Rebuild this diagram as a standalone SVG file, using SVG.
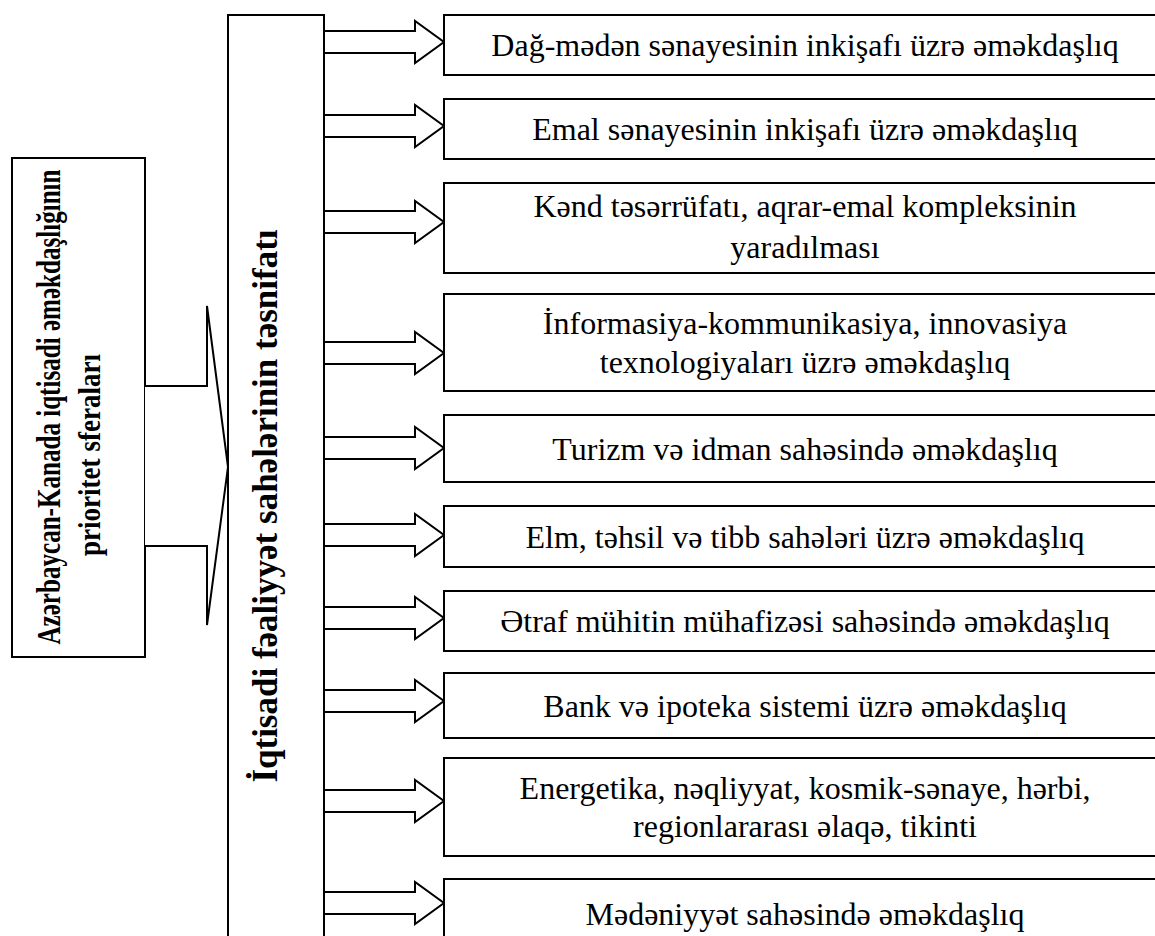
<svg xmlns="http://www.w3.org/2000/svg" width="1155" height="936" viewBox="0 0 1155 936">
<style>
.box{fill:#fff;stroke:#000;stroke-width:2}
.arr{fill:#fff;stroke:#000;stroke-width:2;stroke-linejoin:miter}
.t{font-family:"Liberation Serif","Times New Roman",serif;font-size:32px;fill:#000;text-anchor:middle}
.b{font-family:"Liberation Serif","Times New Roman",serif;font-weight:bold;fill:#000;text-anchor:middle}
</style>
<rect width="1155" height="936" fill="#fff"/>
<g id="left">
<rect class="box" x="12" y="158" width="133" height="499"/>
<text class="b" font-size="34" textLength="475" lengthAdjust="spacingAndGlyphs" transform="translate(60,407) rotate(-90)">Azərbaycan-Kanada iqtisadi əməkdaşlığının</text>
<text class="b" font-size="32" textLength="202" lengthAdjust="spacingAndGlyphs" transform="translate(100,455) rotate(-90)">prioritet sferaları</text>
</g>
<g id="middle">
<rect class="box" x="228" y="15" width="96" height="940"/>
<text class="b" font-size="35" transform="translate(277,506) rotate(-90)">İqtisadi fəaliyyət sahələrinin təsnifatı</text>
</g>
<g id="connectors">
<polyline class="arr" points="145,386 207,386 207,306 228,467 207,625 207,546 145,546"/>
<polygon class="arr" points="324,31 415,31 415,21 444,42 415,63 415,53 324,53"/>
<polygon class="arr" points="324,115 415,115 415,105 444,126 415,147 415,137 324,137"/>
<polygon class="arr" points="324,211 415,211 415,201 444,222 415,243 415,233 324,233"/>
<polygon class="arr" points="324,342 415,342 415,332 444,353 415,374 415,364 324,364"/>
<polygon class="arr" points="324,437 415,437 415,427 444,448 415,469 415,459 324,459"/>
<polygon class="arr" points="324,524 415,524 415,514 444,535 415,556 415,546 324,546"/>
<polygon class="arr" points="324,607 415,607 415,597 444,618 415,639 415,629 324,629"/>
<polygon class="arr" points="324,690 415,690 415,680 444,701 415,722 415,712 324,712"/>
<polygon class="arr" points="324,790 415,790 415,780 444,801 415,822 415,812 324,812"/>
<polygon class="arr" points="324,892 415,892 415,882 444,903 415,924 415,914 324,914"/>
<line x1="324" y1="15" x2="324" y2="940" stroke="#000" stroke-width="2"/>
</g>
<g id="n1"><rect class="box" x="444" y="15" width="720" height="60"/><text class="t" x="805" y="56">Dağ-mədən sənayesinin inkişafı üzrə  əməkdaşlıq</text></g>
<g id="n2"><rect class="box" x="444" y="99" width="720" height="60"/><text class="t" x="805" y="140">Emal sənayesinin inkişafı üzrə əməkdaşlıq</text></g>
<g id="n3"><rect class="box" x="444" y="183" width="720" height="90"/><text class="t" x="805" y="217">Kənd təsərrüfatı, aqrar-emal kompleksinin</text><text class="t" x="805" y="258">yaradılması</text></g>
<g id="n4"><rect class="box" x="444" y="294" width="720" height="97"/><text class="t" x="805" y="334">İnformasiya-kommunikasiya, innovasiya</text><text class="t" x="805" y="373">texnologiyaları üzrə əməkdaşlıq</text></g>
<g id="n5"><rect class="box" x="444" y="415" width="720" height="67"/><text class="t" x="805" y="460">Turizm və idman sahəsində əməkdaşlıq</text></g>
<g id="n6"><rect class="box" x="444" y="506" width="720" height="61"/><text class="t" x="805" y="548">Elm, təhsil və tibb sahələri üzrə əməkdaşlıq</text></g>
<g id="n7"><rect class="box" x="444" y="591" width="720" height="60"/><text class="t" x="805" y="632">Ətraf mühitin mühafizəsi sahəsində əməkdaşlıq</text></g>
<g id="n8"><rect class="box" x="444" y="673" width="720" height="65"/><text class="t" x="805" y="717">Bank və ipoteka sistemi üzrə əməkdaşlıq</text></g>
<g id="n9"><rect class="box" x="444" y="758" width="720" height="98"/><text class="t" x="805" y="799">Energetika, nəqliyyat, kosmik-sənaye, hərbi,</text><text class="t" x="805" y="837">regionlararası əlaqə, tikinti</text></g>
<g id="n10"><rect class="box" x="444" y="879" width="720" height="80"/><text class="t" x="805" y="925">Mədəniyyət sahəsində əməkdaşlıq</text></g>
</svg>
